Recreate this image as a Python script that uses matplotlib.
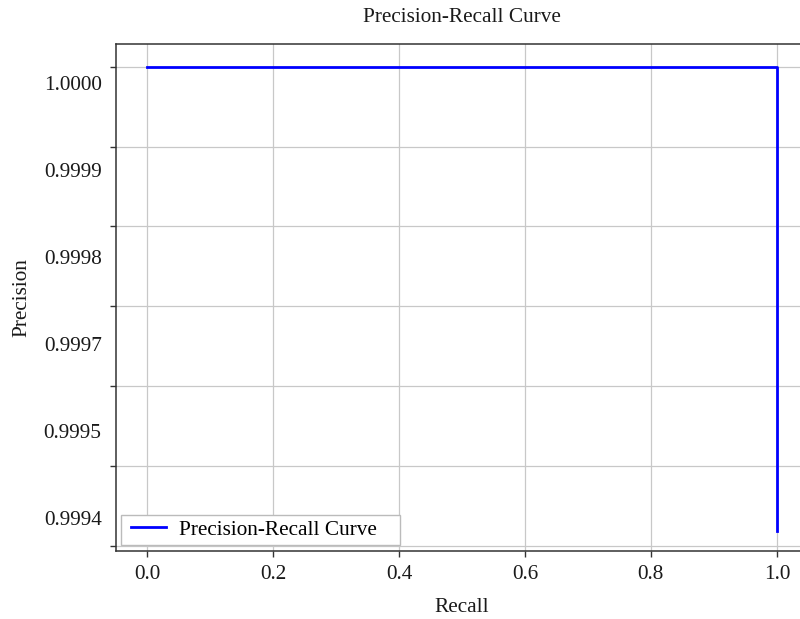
import matplotlib
matplotlib.use("Agg")
import matplotlib.pyplot as plt
from matplotlib.ticker import FixedLocator, NullFormatter
from matplotlib.legend_handler import HandlerLine2D

# ---- data ----
recall = [0.0, 1.0, 1.0]
precision = [1.0, 1.0, 0.999418]
x_ticks = [0.0, 0.2, 0.4, 0.6, 0.8, 1.0]
x_tick_labels = ["0.0", "0.2", "0.4", "0.6", "0.8", "1.0"]
y_grid = [1.0000, 0.9999, 0.9998, 0.9997, 0.9996, 0.9995, 0.9994]
y_tick_labels = ["1.0000", "0.9999", "0.9998", "0.9997", "0.9995", "0.9994"]

# ---- layout ----
Y_LABEL_TOP = 0.9999792
Y_LABEL_STEP = 1.0878e-4
y_label_pos = [Y_LABEL_TOP - i * Y_LABEL_STEP for i in range(len(y_tick_labels))]

plt.rcParams['font.family'] = ['Liberation Serif', 'DejaVu Serif']
FS = 15.3

fig = plt.figure(figsize=(8.0, 6.19), dpi=100)
ax = fig.add_axes([0.1444, 0.10985, 0.866, 0.8191])

line, = ax.plot(recall, precision, color='blue', linewidth=2.0, label='Precision-Recall Curve')

ax.set_xlim(-0.05, 1.05)
ax.set_ylim(0.99939336, 1.00002844)

ax.set_xticks(x_ticks)
ax.set_xticklabels(x_tick_labels, fontsize=FS)
ax.tick_params(axis='x', which='major', length=4, width=1, color='#333333', pad=6)

ax.yaxis.set_major_locator(FixedLocator(y_label_pos))
ax.set_yticklabels(y_tick_labels, fontsize=FS)
ax.tick_params(axis='y', which='major', length=0, pad=10)
ax.yaxis.set_minor_locator(FixedLocator(y_grid))
ax.yaxis.set_minor_formatter(NullFormatter())
ax.tick_params(axis='y', which='minor', length=4, width=1, color='#333333')

ax.grid(False)
ax.xaxis.grid(True, which='major', color='#c8c8c8', linewidth=0.9)
ax.yaxis.grid(True, which='minor', color='#c8c8c8', linewidth=0.9)
ax.set_axisbelow(True)

for s in ax.spines.values():
    s.set_color('#333333')
    s.set_linewidth(1.1)

ax.set_title('Precision-Recall Curve', fontsize=FS, pad=15.5, color='#1a1a1a')
ax.set_xlabel('Recall', fontsize=FS, labelpad=10, color='#1a1a1a')
ax.set_ylabel('Precision', fontsize=FS, labelpad=8.5, color='#1a1a1a')
for t in ax.get_xticklabels() + ax.get_yticklabels():
    t.set_color('#1a1a1a')

leg = ax.legend(loc='lower left', bbox_to_anchor=(0.0072, 0.0118, 0.403, 0.06),
                mode='expand', fontsize=FS, fancybox=False, borderpad=0.25,
                borderaxespad=0.0, handlelength=1.875, handletextpad=0.62,
                framealpha=1.0, edgecolor='#bbbbbb',
                handler_map={line: HandlerLine2D(xpad=0.226)})
leg.get_frame().set_linewidth(1.0)

fig.savefig('out.png', dpi=100)
